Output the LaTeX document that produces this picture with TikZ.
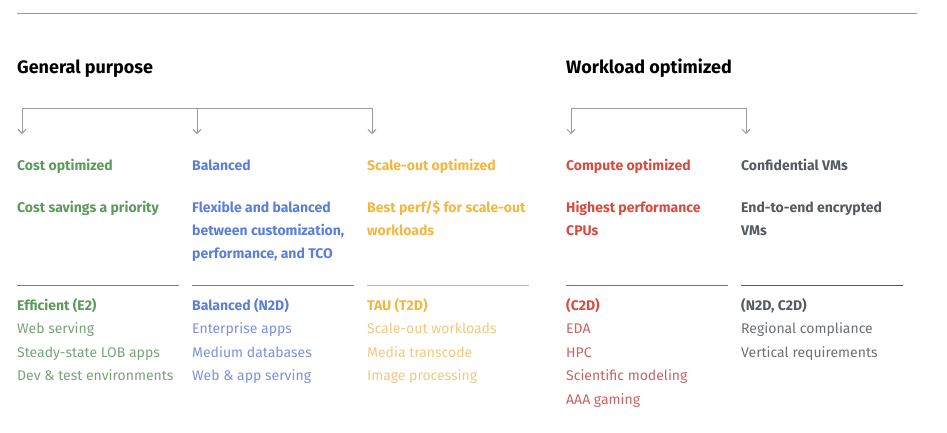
\documentclass[tikz,border=0pt]{standalone}
\usepackage{fontspec}
\setmainfont{Fira Sans}
\usetikzlibrary{arrows.meta}

\definecolor{rulegray}{HTML}{9A9A9A}
\definecolor{cgreen}{HTML}{5B9A5B}
\definecolor{lgreen}{HTML}{7AA27A}
\definecolor{cblue}{HTML}{5A7EDB}
\definecolor{lblue}{HTML}{7B91DC}
\definecolor{cyellow}{HTML}{F2B740}
\definecolor{lyellow}{HTML}{F3C77E}
\definecolor{cred}{HTML}{D84C40}
\definecolor{lred}{HTML}{CC6262}
\definecolor{cgray}{HTML}{555A60}
\definecolor{lgray}{HTML}{6C7075}

\begin{document}
\begin{tikzpicture}[x=1pt,y=-1pt,
  every node/.style={inner sep=0pt,anchor=north west,align=left},
  head/.style={anchor=base west,font=\fontsize{18}{20}\selectfont\bfseries},
  ttl/.style={font=\fontsize{14}{23}\selectfont\bfseries},
  item/.style={font=\fontsize{14}{23.5}\selectfont},
  brk/.style={draw=rulegray,line width=0.9pt},
  arr/.style={brk,-{Straight Barb[length=4pt,width=8pt]}}]
\useasboundingbox (0,0) rectangle (947,432);
\draw[rulegray,line width=1pt] (17,13)--(917,13);
\node[head] (gp) at (17,73) {General purpose};
\node[head] (wo) at (566,73) {Workload optimized};
% strut top = baseline - 0.7 baselineskip
\foreach \n/\x/\c/\t/\d/\s/\i in {
 1/17/green/Cost optimized/Cost savings a priority/Efficient (E2)/{Web serving\\Steady-state LOB apps\\Dev \& test environments},
 2/192/blue/Balanced/{Flexible and balanced\\between customization,\\performance, and TCO}/Balanced (N2D)/{Enterprise apps\\Medium databases\\Web \& app serving},
 3/367/yellow/Scale-out optimized/{Best perf/\$ for scale-out\\workloads}/TAU (T2D)/{Scale-out workloads\\Media transcode\\Image processing},
 4/566/red/Compute optimized/{Highest performance\\CPUs}/(C2D)/{EDA\\HPC\\Scientific modeling\\AAA gaming},
 5/741/gray/Confidential VMs/{End-to-end encrypted\\VMs}/{(N2D, C2D)}/{Regional compliance\\Vertical requirements}}{
 \coordinate (top\n) at ({\x+5},108);
 \coordinate (tip\n) at ({\x+5},134);
 \draw[arr] (top\n)--(tip\n);
 \node[ttl,text=c\c] (t\n) at (\x,170-16.1) {\strut\t};
 \node[ttl,text=c\c] (d\n) at (\x,212-16.1) {\strut\d};
 \draw[c\c,line width=1pt] (\x,285)--++(162,0);
 \node[item,text=l\c] (s\n) at (\x,310-16.45) {\strut\textbf{\color{c\c}\s}\\\i};
}
\draw[brk] (top1)--(top3);
\draw[brk] (top4)--(top5);
\end{tikzpicture}
\end{document}
